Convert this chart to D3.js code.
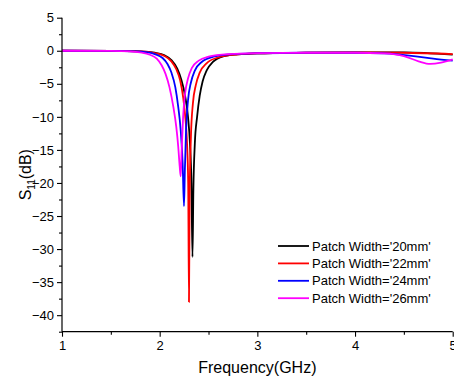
<!DOCTYPE html>
<html>
<head>
<meta charset="utf-8">
<script src="https://cdn.jsdelivr.net/npm/d3@7/dist/d3.min.js"></script>
<style>
html,body{margin:0;padding:0;background:#fff;}
svg{display:block;font-family:"Liberation Sans",Arial,sans-serif;}
</style>
</head>
<body>
<svg id="chart" width="454" height="383"></svg>
<script>
// ---- data (frequency in GHz, S11 in dB) ----
const seriesNames = ["Patch Width='20mm'", "Patch Width='22mm'", "Patch Width='24mm'", "Patch Width='26mm'"];
const seriesColors = ["#000000", "#ff0000", "#0000ff", "#ff00ff"];

const freq20 = [1.0,1.5,1.8,1.95,2.05,2.12,2.18,2.22,2.26,2.29,2.31,2.325,2.336,2.345,2.36,2.383,2.41,2.44,2.48,2.545,2.65,2.8,3.0,3.5,4.0,4.5,5.0];
const s20    = [0,-0.01,-0.08,-0.3,-0.7,-1.4,-2.7,-4.3,-6.8,-10,-14,-20,-31.2,-21,-14,-10,-6.8,-4.6,-3.0,-1.7,-0.85,-0.55,-0.4,-0.3,-0.25,-0.25,-0.6];

const freq22 = [1.0,1.5,1.8,1.95,2.05,2.12,2.17,2.21,2.24,2.265,2.28,2.292,2.3,2.307,2.32,2.34,2.37,2.41,2.48,2.6,2.8,3.0,3.5,4.0,4.5,5.0];
const s22    = [0,-0.01,-0.1,-0.35,-0.8,-1.6,-2.8,-4.5,-7,-10.5,-14,-20,-38,-22,-13,-8,-5.2,-3.3,-1.9,-1.0,-0.55,-0.4,-0.3,-0.25,-0.3,-0.5];

const freq24 = [1.0,1.5,1.75,1.85,1.95,2.03,2.08,2.12,2.16,2.19,2.215,2.235,2.249,2.258,2.27,2.29,2.32,2.36,2.43,2.55,2.75,3.0,3.5,4.0,4.3,4.6,4.8,5.0];
const s24    = [0,-0.02,-0.1,-0.2,-0.5,-1.1,-2.0,-3.3,-5.5,-8.5,-12,-17,-23.5,-18,-12,-7.5,-4.8,-3.0,-1.7,-0.9,-0.5,-0.38,-0.3,-0.3,-0.4,-0.8,-1.2,-1.5];

const freq26 = [1.0,1.5,1.7,1.8,1.9,1.97,2.02,2.06,2.1,2.14,2.17,2.19,2.205,2.215,2.225,2.24,2.26,2.29,2.33,2.4,2.5,2.7,3.0,3.5,4.0,4.3,4.5,4.65,4.77,4.88,5.0];
const s26    = [0,-0.02,-0.1,-0.25,-0.6,-1.2,-2.2,-3.5,-5.5,-8.5,-11.5,-14.5,-17.5,-19.0,-15,-10,-6.5,-4.2,-2.6,-1.5,-0.9,-0.5,-0.35,-0.3,-0.3,-0.4,-0.8,-1.6,-2.0,-1.8,-1.3];

const xTicks = [1,2,3,4,5];
const xMinor = [1.5,2.5,3.5,4.5];
const yTicks = [5,0,-5,-10,-15,-20,-25,-30,-35,-40];
const yMinor = [2.5,-2.5,-7.5,-12.5,-17.5,-22.5,-27.5,-32.5,-37.5,-42.5];
const xDomain = [1,5];
const yDomain = [-42.5,5];

const series = [
  {name: seriesNames[0], color: seriesColors[0], f: freq20, s: s20},
  {name: seriesNames[1], color: seriesColors[1], f: freq22, s: s22},
  {name: seriesNames[2], color: seriesColors[2], f: freq24, s: s24},
  {name: seriesNames[3], color: seriesColors[3], f: freq26, s: s26}
];

// ---- layout ----
const svg = d3.select("#chart");
const pL = 62, pR = 452.7, pT = 17.7, pB = 331.7;
const x = d3.scaleLinear().domain(xDomain).range([pL, pR]);
const y = d3.scaleLinear().domain(yDomain).range([pB, pT]);

// curves
const line = d3.line().x(d => x(d[0])).y(d => y(d[1])).curve(d3.curveMonotoneX);
const plot = svg.append("g");
series.forEach(sr => {
  const pts = sr.f.map((f, i) => [f, sr.s[i]]);
  plot.append("path").datum(pts)
    .attr("d", line)
    .attr("fill", "none")
    .attr("stroke", sr.color)
    .attr("stroke-width", 1.8)
    .attr("stroke-linejoin", "round");
});

// axes
const xAxis = svg.append("g").attr("transform", `translate(0,${pB})`)
  .call(d3.axisBottom(x).tickValues(xTicks).tickFormat(d3.format("d")).tickSize(5).tickPadding(4).tickSizeOuter(0));
const xAxisMinor = svg.append("g").attr("transform", `translate(0,${pB})`)
  .call(d3.axisBottom(x).tickValues(xMinor).tickFormat("").tickSize(3).tickSizeOuter(0));
const yAxis = svg.append("g").attr("transform", `translate(${pL},0)`)
  .call(d3.axisLeft(y).tickValues(yTicks).tickFormat(d3.format("d")).tickSize(5).tickPadding(3).tickSizeOuter(0));
const yAxisMinor = svg.append("g").attr("transform", `translate(${pL},0)`)
  .call(d3.axisLeft(y).tickValues(yMinor).tickFormat("").tickSize(3).tickSizeOuter(0));

[xAxis, xAxisMinor, yAxis, yAxisMinor].forEach(g => {
  g.select(".domain").attr("stroke", "#000").attr("stroke-width", 1.2);
  g.selectAll(".tick line").attr("stroke", "#000").attr("stroke-width", 1.1);
  g.selectAll(".tick text").attr("fill", "#000").attr("font-size", 13)
    .attr("font-family", "'Liberation Sans',Arial,sans-serif");
});
xAxisMinor.select(".domain").remove();
yAxisMinor.select(".domain").remove();
yAxis.select(".domain").attr("d", `M0,${pT}V${pB}`);
xAxis.select(".domain").attr("d", `M${pL},0H${pR}`);

// axis titles
svg.append("text")
  .attr("x", (pL + pR) / 2).attr("y", 373)
  .attr("text-anchor", "middle").attr("font-size", 16).attr("fill", "#000")
  .text("Frequency(GHz)");

const yt = svg.append("text")
  .attr("transform", `translate(31,${(pT + pB) / 2}) rotate(-90)`)
  .attr("text-anchor", "middle").attr("font-size", 16).attr("fill", "#000");
yt.append("tspan").text("S");
yt.append("tspan").attr("font-size", 10).attr("dy", 4).text("11");
yt.append("tspan").attr("dy", -4).text("(dB)");

// legend
const lg = svg.append("g");
series.forEach((sr, i) => {
  const ly = 246 + i * 17.4;
  lg.append("line").attr("x1", 278).attr("x2", 309).attr("y1", ly).attr("y2", ly)
    .attr("stroke", sr.color).attr("stroke-width", 1.8);
  lg.append("text").attr("x", 312).attr("y", ly + 4.5)
    .attr("font-size", 13).attr("fill", "#000").text(sr.name);
});
</script>
</body>
</html>
